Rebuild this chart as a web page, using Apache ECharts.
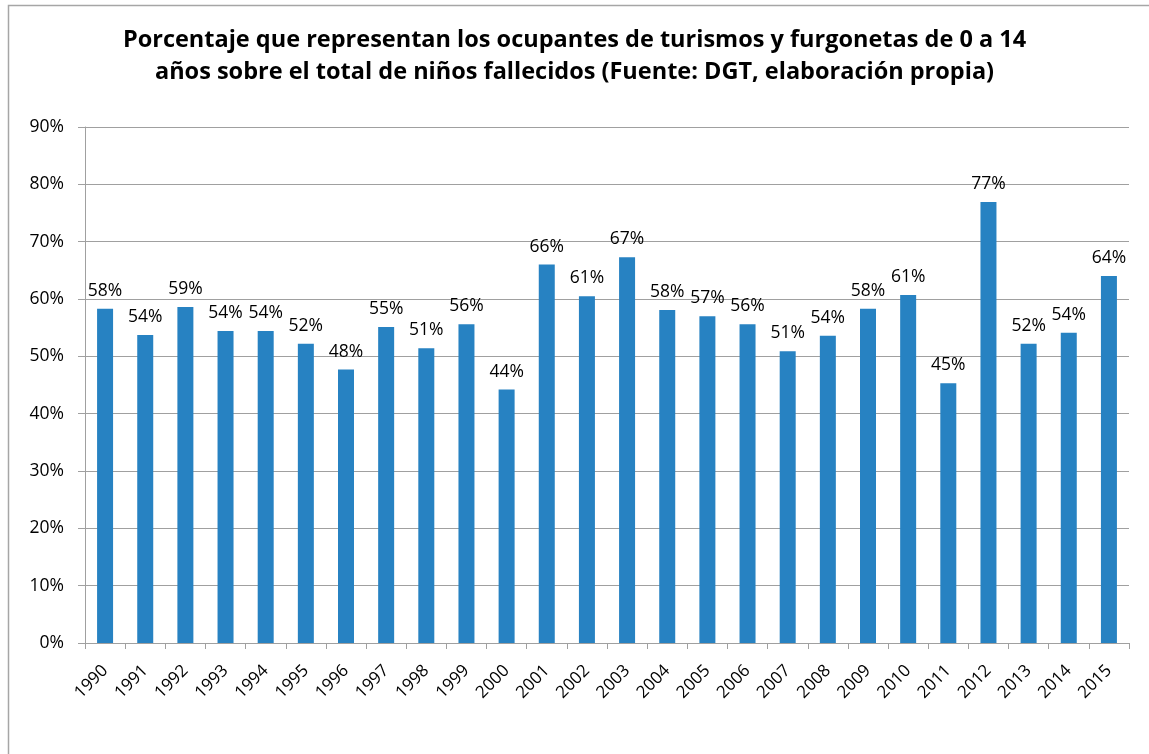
<!DOCTYPE html>
<html>
<head>
<meta charset="utf-8">
<script src="https://cdn.jsdelivr.net/npm/echarts@6/dist/echarts.min.js"></script>
<style>html,body{margin:0;padding:0;background:#fff;}#chart{width:1149px;height:754px;}</style>
</head>
<body>
<div id="chart"></div>
<script>
const titleText = 'Porcentaje que representan los ocupantes de turismos y furgonetas de 0 a 14\naños sobre el total de niños fallecidos (Fuente: DGT, elaboración propia)';
const years = ['1990','1991','1992','1993','1994','1995','1996','1997','1998','1999','2000','2001','2002','2003','2004','2005','2006','2007','2008','2009','2010','2011','2012','2013','2014','2015'];
const percentages = [58.3,53.7,58.6,54.4,54.4,52.2,47.7,55.1,51.4,55.6,44.2,66.0,60.5,67.3,58.1,57.0,55.6,50.9,53.6,58.3,60.7,45.3,76.9,52.2,54.1,64.0];
const yTicks = {min: 0, max: 90, interval: 10};

const FONT = '"Open Sans", "Noto Sans", sans-serif';
const chart = echarts.init(document.getElementById('chart'));
chart.setOption({
  animation: false,
  backgroundColor: '#ffffff',
  graphic: [{
    type: 'rect', left: 6, top: 3, z: -1, silent: true,
    shape: {width: 1200, height: 800},
    style: {fill: 'none', stroke: '#a6a6a6', lineWidth: 1.5}
  }],
  title: {
    text: titleText,
    left: 'center', top: 19,
    textStyle: {fontFamily: FONT, fontWeight: 'bold', fontSize: 23.5, color: '#000', lineHeight: 32}
  },
  grid: {left: 85, right: 20, top: 127, bottom: 111, containLabel: false},
  xAxis: {
    type: 'category',
    data: years,
    axisLine: {lineStyle: {color: '#a0a0a0', width: 1}},
    axisTick: {show: true, length: 6, lineStyle: {color: '#a0a0a0'}},
    axisLabel: {rotate: 45, fontFamily: FONT, fontSize: 17, color: '#000', margin: 25, interval: 0}
  },
  yAxis: {
    type: 'value',
    min: yTicks.min, max: yTicks.max, interval: yTicks.interval,
    axisLine: {show: true, lineStyle: {color: '#a0a0a0'}},
    axisTick: {show: true, length: 7, lineStyle: {color: '#a0a0a0'}},
    splitLine: {lineStyle: {color: '#a0a0a0', width: 1}},
    axisLabel: {formatter: '{value}%', fontFamily: FONT, fontSize: 17.5, color: '#000', margin: 21}
  },
  series: [{
    type: 'bar',
    data: percentages,
    barWidth: 16,
    itemStyle: {color: '#2782c2'},
    label: {
      show: true, position: 'top', distance: 9,
      fontFamily: FONT, fontSize: 17.5, color: '#000',
      formatter: p => Math.round(p.value) + '%'
    }
  }]
});
</script>
</body>
</html>
